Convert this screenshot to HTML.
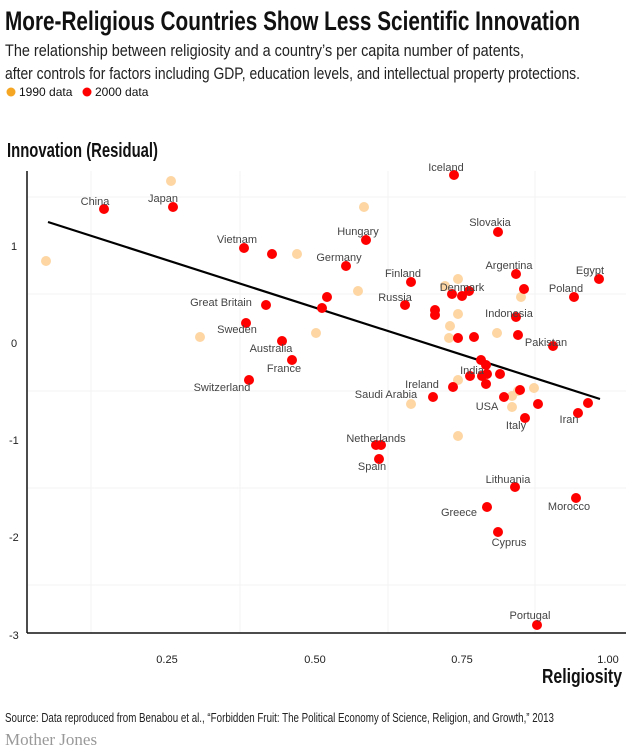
<!DOCTYPE html>
<html><head><meta charset="utf-8"><style>
body{margin:0;background:#fff;width:630px;height:750px;overflow:hidden;font-family:"Liberation Sans",sans-serif}
.n{font-family:"Liberation Sans Narrow","Liberation Sans",sans-serif}
</style></head><body>
<svg width="630" height="750" xmlns="http://www.w3.org/2000/svg">
<g class="n" fill="#111">
<text x="5" y="30" font-size="27" font-weight="bold" textLength="575" lengthAdjust="spacingAndGlyphs">More-Religious Countries Show Less Scientific Innovation</text>
<text x="5" y="56" font-size="17" fill="#222" textLength="519" lengthAdjust="spacingAndGlyphs">The relationship between religiosity and a country’s per capita number of patents,</text>
<text x="5" y="79" font-size="17" fill="#222" textLength="575" lengthAdjust="spacingAndGlyphs">after controls for factors including GDP, education levels, and intellectual property protections.</text>
<circle cx="11" cy="92" r="4.5" fill="#f5a623"/><text x="19" y="96" font-size="12">1990 data</text>
<circle cx="87" cy="92" r="4.5" fill="#f00"/><text x="95" y="96" font-size="12">2000 data</text>
<text x="7" y="157" font-size="20" font-weight="bold" textLength="151" lengthAdjust="spacingAndGlyphs">Innovation (Residual)</text>
<text x="542" y="683" font-size="20" font-weight="bold" textLength="80" lengthAdjust="spacingAndGlyphs">Religiosity</text>
<text x="5" y="722" font-size="13" fill="#222" textLength="549" lengthAdjust="spacingAndGlyphs">Source: Data reproduced from Benabou et al., “Forbidden Fruit: The Political Economy of Science, Religion, and Growth,” 2013</text>
</g>
<text x="5" y="745" font-family="Liberation Serif,serif" font-size="17" fill="#999">Mother Jones</text>
<g stroke="#f3f3f3" stroke-width="1">
<line x1="91" y1="171" x2="91" y2="633"/><line x1="240" y1="171" x2="240" y2="633"/><line x1="388" y1="171" x2="388" y2="633"/><line x1="535" y1="171" x2="535" y2="633"/>
<line x1="28" y1="197" x2="626" y2="197"/><line x1="28" y1="294" x2="626" y2="294"/><line x1="28" y1="391" x2="626" y2="391"/><line x1="28" y1="488" x2="626" y2="488"/><line x1="28" y1="585" x2="626" y2="585"/>
</g>
<g stroke="#111" stroke-width="1.5"><line x1="27" y1="171" x2="27" y2="633"/><line x1="27" y1="633" x2="626" y2="633"/></g>
<g font-size="11" fill="#222">
<text x="11" y="250">1</text><text x="11" y="347">0</text><text x="9" y="444">-1</text><text x="9" y="541">-2</text><text x="9" y="639">-3</text>
<text x="167" y="663" text-anchor="middle">0.25</text><text x="315" y="663" text-anchor="middle">0.50</text><text x="462" y="663" text-anchor="middle">0.75</text><text x="608" y="663" text-anchor="middle">1.00</text>
</g>
<g fill="#fdd6a3">
<circle cx="46" cy="261" r="5"/><circle cx="171" cy="181" r="5"/><circle cx="364" cy="207" r="5"/><circle cx="297" cy="254" r="5"/><circle cx="200" cy="337" r="5"/><circle cx="316" cy="333" r="5"/><circle cx="358" cy="291" r="5"/><circle cx="458" cy="279" r="5"/><circle cx="445" cy="286" r="5"/><circle cx="458" cy="314" r="5"/><circle cx="450" cy="326" r="5"/><circle cx="449" cy="338" r="5"/><circle cx="497" cy="333" r="5"/><circle cx="521" cy="297" r="5"/><circle cx="458" cy="380" r="5"/><circle cx="411" cy="404" r="5"/><circle cx="458" cy="436" r="5"/><circle cx="512" cy="396" r="5"/><circle cx="518" cy="391" r="5"/><circle cx="512" cy="407" r="5"/><circle cx="534" cy="388" r="5"/>
</g>
<line x1="48" y1="222" x2="600" y2="399" stroke="#000" stroke-width="2.2"/>
<g fill="#f00">
<circle cx="104" cy="209" r="5"/><circle cx="173" cy="207" r="5"/><circle cx="244" cy="248" r="5"/><circle cx="272" cy="254" r="5"/><circle cx="266" cy="305" r="5"/><circle cx="246" cy="323" r="5"/><circle cx="282" cy="341" r="5"/><circle cx="292" cy="360" r="5"/><circle cx="249" cy="380" r="5"/>
<circle cx="346" cy="266" r="5"/><circle cx="327" cy="297" r="5"/><circle cx="322" cy="308" r="5"/><circle cx="411" cy="282" r="5"/><circle cx="405" cy="305" r="5"/><circle cx="435" cy="310" r="5"/><circle cx="435" cy="315" r="5"/><circle cx="452" cy="294" r="5"/><circle cx="462" cy="296" r="5"/><circle cx="469" cy="291" r="5"/><circle cx="516" cy="274" r="5"/><circle cx="524" cy="289" r="5"/><circle cx="599" cy="279" r="5"/><circle cx="574" cy="297" r="5"/><circle cx="516" cy="317" r="5"/><circle cx="458" cy="338" r="5"/><circle cx="474" cy="337" r="5"/><circle cx="518" cy="335" r="5"/><circle cx="553" cy="346" r="5"/><circle cx="481" cy="360" r="5"/><circle cx="486" cy="365" r="5"/><circle cx="470" cy="376" r="5"/><circle cx="482" cy="376" r="5"/><circle cx="487" cy="374" r="5"/><circle cx="500" cy="374" r="5"/><circle cx="486" cy="384" r="5"/><circle cx="453" cy="387" r="5"/><circle cx="433" cy="397" r="5"/><circle cx="504" cy="397" r="5"/><circle cx="520" cy="390" r="5"/><circle cx="538" cy="404" r="5"/><circle cx="525" cy="418" r="5"/><circle cx="578" cy="413" r="5"/><circle cx="588" cy="403" r="5"/><circle cx="376" cy="445" r="5"/><circle cx="381" cy="445" r="5"/>
<circle cx="454" cy="175" r="5"/><circle cx="498" cy="232" r="5"/><circle cx="366" cy="240" r="5"/><circle cx="379" cy="459" r="5"/><circle cx="515" cy="487" r="5"/><circle cx="576" cy="498" r="5"/><circle cx="487" cy="507" r="5"/><circle cx="498" cy="532" r="5"/><circle cx="537" cy="625" r="5"/>
</g>
<g font-size="11" fill="#444" text-anchor="middle">
<text x="95" y="205">China</text><text x="163" y="202">Japan</text><text x="237" y="243">Vietnam</text><text x="221" y="306">Great Britain</text><text x="237" y="333">Sweden</text><text x="271" y="352">Australia</text><text x="284" y="372">France</text><text x="222" y="391">Switzerland</text>
<text x="446" y="171">Iceland</text><text x="490" y="226">Slovakia</text><text x="358" y="235">Hungary</text><text x="339" y="261">Germany</text><text x="403" y="277">Finland</text><text x="395" y="301">Russia</text><text x="462" y="291">Denmark</text><text x="509" y="269">Argentina</text><text x="590" y="274">Egypt</text><text x="566" y="292">Poland</text><text x="509" y="317">Indonesia</text><text x="546" y="346">Pakistan</text><text x="472" y="374">India</text><text x="422" y="388">Ireland</text><text x="386" y="398">Saudi Arabia</text><text x="487" y="410">USA</text><text x="516" y="429">Italy</text><text x="569" y="423">Iran</text><text x="376" y="442">Netherlands</text><text x="372" y="470">Spain</text><text x="508" y="483">Lithuania</text><text x="569" y="510">Morocco</text><text x="459" y="516">Greece</text><text x="509" y="546">Cyprus</text><text x="530" y="619">Portugal</text>
</g>
</svg>
</body></html>
